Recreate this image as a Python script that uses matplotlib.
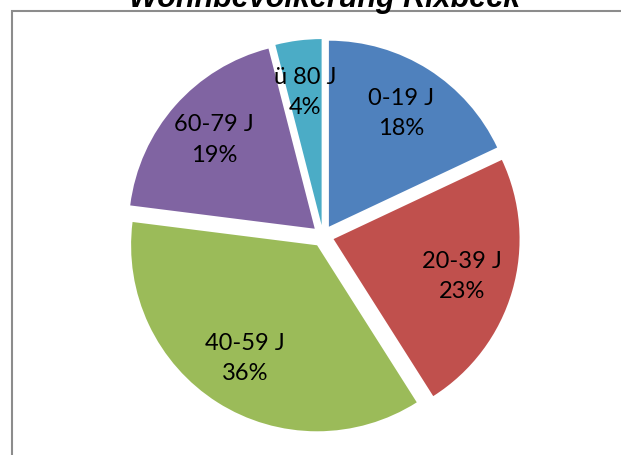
import matplotlib
matplotlib.use("Agg")
import matplotlib.pyplot as plt
from matplotlib.patches import Rectangle

# === Data ===
groups = ["0-19 J", "20-39 J", "40-59 J", "60-79 J", "ü 80 J"]
shares = [18, 23, 36, 19, 4]
colors = ["#4F81BD", "#C0504D", "#9BBB59", "#8064A2", "#4BACC6"]
title = "Wohnbevölkerung Rixbeck"

labels = [f"{g}\n{s:.0f}%" for g, s in zip(groups, shares)]

# === Plotting (axes in pixel units) ===
W, H = 621, 455
fig = plt.figure(figsize=(W / 100, H / 100), dpi=100)
ax = fig.add_axes([0, 0, 1, 1])

wedges, texts = ax.pie(shares, colors=colors, labels=labels,
                       startangle=90, counterclock=False,
                       center=(323, H - 236), radius=186,
                       explode=[11] * len(shares), labeldistance=0.72,
                       textprops=dict(fontsize=17, family="Lato", color="black"))
for t in texts:
    t.set_ha("center")
    t.set_va("center")
    t.set_multialignment("center")
    t.set_linespacing(1.55)

ax.set_xlim(0, W)
ax.set_ylim(0, H)
ax.set_aspect("equal")
ax.axis("off")

# chart frame (cut off at right and bottom)
ax.add_patch(Rectangle((12, -20), 700, H - 10.5 + 20, fill=False,
                       edgecolor="#8c8c8c", linewidth=1.5, clip_on=False))

ax.text(325, H - 7, title, ha="center", va="baseline",
        family="Liberation Sans", fontweight="bold", fontstyle="italic",
        fontsize=22)

fig.savefig("out.png", dpi=100)
